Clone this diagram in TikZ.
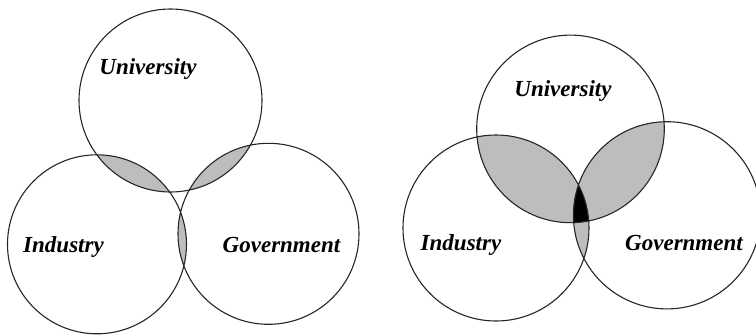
\documentclass[tikz,border=0pt]{standalone}
\usepackage{fontspec}
\setmainfont{Liberation Serif}
\begin{document}
\begin{tikzpicture}[x=1pt,y=-1pt,
  ring/.style={draw=black!85,line width=1.1pt},
  lapfill/.style={fill=black!26},
  lbl/.style={anchor=base,font=\fontsize{23}{27}\selectfont\bfseries\itshape,inner sep=0pt}]
\useasboundingbox (0,0) rectangle (756,335);
% left diagram centres and radii
\coordinate (LU) at (170.5,100.5); \def\rLU{91.5}
\coordinate (LI) at (97,244.3);    \def\rLI{89.5}
\coordinate (LG) at (268.5,233.8); \def\rLG{90.5}
% right diagram centres and radii
\coordinate (RU) at (570.5,128.9); \def\rRU{93.8}
\coordinate (RI) at (496,228);     \def\rRI{93}
\coordinate (RG) at (667,215.3);   \def\rRG{93.6}
% left overlaps
\begin{scope}\clip (LU) circle (\rLU); \fill[lapfill] (LI) circle (\rLI);\end{scope}
\begin{scope}\clip (LU) circle (\rLU); \fill[lapfill] (LG) circle (\rLG);\end{scope}
\begin{scope}\clip (LI) circle (\rLI); \fill[lapfill] (LG) circle (\rLG);\end{scope}
% right overlaps
\begin{scope}\clip (RU) circle (\rRU); \fill[lapfill] (RI) circle (\rRI);\end{scope}
\begin{scope}\clip (RU) circle (\rRU); \fill[lapfill] (RG) circle (\rRG);\end{scope}
\begin{scope}\clip (RI) circle (\rRI); \fill[lapfill] (RG) circle (\rRG);\end{scope}
\begin{scope}\clip (RU) circle (\rRU); \clip (RI) circle (\rRI); \fill[black] (RG) circle (\rRG);\end{scope}
% rings
\draw[ring] (LU) circle (\rLU) (LI) circle (\rLI) (LG) circle (\rLG);
\draw[ring] (RU) circle (\rRU) (RI) circle (\rRI) (RG) circle (\rRG);
% labels
\node[lbl] (lu) at (148,74) {University};
\node[lbl] (li) at (63.5,252) {Industry};
\node[lbl] (lg) at (281.5,252) {Government};
\node[lbl] (ru) at (563,96.5) {University};
\node[lbl] (ri) at (461,250.5) {Industry};
\node[lbl] (rg) at (684,250.5) {Government};
\end{tikzpicture}
\end{document}
